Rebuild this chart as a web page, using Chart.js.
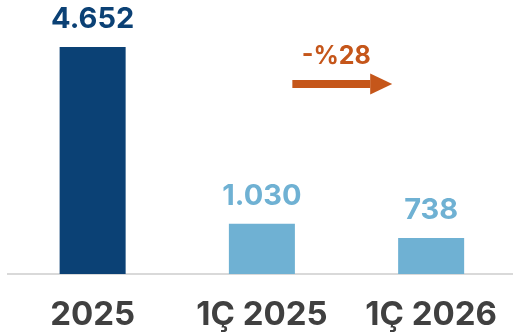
<!DOCTYPE html>
<html lang="tr">
<head>
  <meta charset="UTF-8">
  <title>Chart</title>
  <style>
    html, body { margin: 0; padding: 0; background: #fff; overflow: hidden; }
    .chart-wrap { position: relative; width: 518px; height: 335px; }
  </style>
</head>
<body>
  <div class="chart-wrap">
    <canvas id="bar-chart"></canvas>
  </div>

  <script src="https://cdn.jsdelivr.net/npm/chart.js"></script>
  <script>
    const categories = ['2025', '1Ç 2025', '1Ç 2026'];
    const values = [4652, 1030, 738];
    const valueLabels = ['4.652', '1.030', '738'];
    const changeLabel = '-%28';

    const NAVY = '#0b4175';
    const LIGHT = '#6fb1d3';
    const ORANGE = '#c5561a';
    const FONT = 'Inter, "Noto Sans", sans-serif';

    // value labels above the bars
    const valueLabelPlugin = {
      id: 'valueLabels',
      afterDatasetsDraw(chart) {
        const ctx = chart.ctx;
        const meta = chart.getDatasetMeta(0);
        ctx.save();
        ctx.font = 'bold 29px ' + FONT;
        ctx.textAlign = 'center';
        ctx.textBaseline = 'alphabetic';
        meta.data.forEach((bar, i) => {
          ctx.fillStyle = i === 0 ? NAVY : LIGHT;
          ctx.fillText(valueLabels[i], bar.x, bar.y - 19);
        });
        ctx.restore();
      }
    };

    // arrow with change text between 1Ç 2025 and 1Ç 2026
    const changeArrowPlugin = {
      id: 'changeArrow',
      afterDraw(chart) {
        const ctx = chart.ctx;
        const x = chart.scales.x;
        const a = x.getPixelForValue(1);
        const b = x.getPixelForValue(2);
        const x0 = a + (b - a) * 0.18;
        const x1 = a + (b - a) * 0.77;
        const y = 84;
        ctx.save();
        ctx.fillStyle = ORANGE;
        ctx.fillRect(x0, y - 4, x1 - 22 - x0, 8);
        ctx.beginPath();
        ctx.moveTo(x1 - 22, y - 10.5);
        ctx.lineTo(x1, y);
        ctx.lineTo(x1 - 22, y + 10.5);
        ctx.closePath();
        ctx.fill();
        ctx.font = 'bold 25px ' + FONT;
        ctx.textAlign = 'center';
        ctx.textBaseline = 'alphabetic';
        ctx.fillText(changeLabel, (x0 + x1) / 2 - 6, 64);
        ctx.restore();
      }
    };

    new Chart(document.getElementById('bar-chart'), {
      type: 'bar',
      data: {
        labels: categories,
        datasets: [{
          data: values,
          backgroundColor: [NAVY, LIGHT, LIGHT],
          barPercentage: 0.39,
          categoryPercentage: 1
        }]
      },
      options: {
        responsive: true,
        maintainAspectRatio: false,
        animation: false,
        layout: { padding: { top: 30, left: 8, right: 0, bottom: 0 } },
        plugins: { legend: { display: false }, tooltip: { enabled: false } },
        scales: {
          x: {
            grid: { display: false, drawTicks: false },
            border: { display: true, color: '#d9d9d9', width: 2 },
            ticks: {
              color: '#404040',
              padding: 21,
              font: { family: FONT, size: 33, weight: 'bold' }
            },
            afterFit(scale) { scale.height = 61; }
          },
          y: {
            display: false,
            min: 0,
            max: 5000
          }
        }
      },
      plugins: [valueLabelPlugin, changeArrowPlugin]
    });
  </script>
</body>
</html>
